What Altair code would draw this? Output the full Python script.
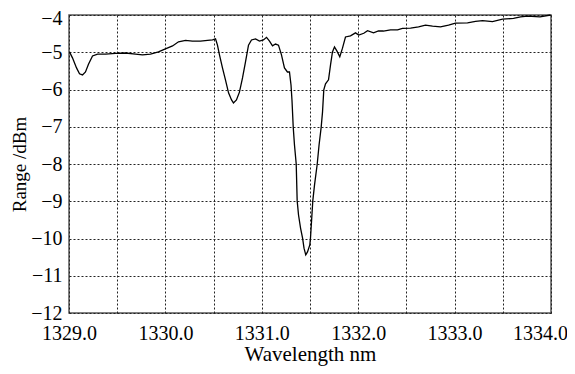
import altair as alt
import pandas as pd

wavelength = [
    1329.005, 1329.036, 1329.078, 1329.109, 1329.140, 1329.171, 1329.202, 1329.244,
    1329.296, 1329.379, 1329.482, 1329.586, 1329.690, 1329.762, 1329.845, 1329.928,
    1330.000, 1330.074, 1330.136, 1330.209, 1330.280, 1330.364, 1330.437, 1330.489,
    1330.520, 1330.540, 1330.561, 1330.592, 1330.623, 1330.655, 1330.686, 1330.706,
    1330.737, 1330.768, 1330.800, 1330.831, 1330.862, 1330.893, 1330.935, 1330.976,
    1331.017, 1331.049, 1331.080, 1331.111, 1331.142, 1331.173, 1331.204, 1331.235,
    1331.266, 1331.287, 1331.303, 1331.313, 1331.326, 1331.339, 1331.357, 1331.367,
    1331.381, 1331.402, 1331.423, 1331.438, 1331.456, 1331.474, 1331.498, 1331.505,
    1331.529, 1331.547, 1331.575, 1331.594, 1331.616, 1331.630, 1331.643, 1331.661,
    1331.692, 1331.713, 1331.733, 1331.754, 1331.780, 1331.809, 1331.837, 1331.868,
    1331.920, 1331.972, 1332.006, 1332.058, 1332.097, 1332.159, 1332.210, 1332.262,
    1332.335, 1332.408, 1332.459, 1332.543, 1332.626, 1332.698, 1332.771, 1332.854,
    1332.937, 1333.009, 1333.134, 1333.217, 1333.290, 1333.393, 1333.497, 1333.611,
    1333.684, 1333.756, 1333.886, 1333.995,
]
power_dbm = [
    -4.99, -5.15, -5.42, -5.58, -5.61, -5.53, -5.32, -5.10,
    -5.05, -5.05, -5.03, -5.02, -5.05, -5.07, -5.05, -4.99,
    -4.91, -4.83, -4.72, -4.68, -4.70, -4.70, -4.68, -4.67,
    -4.64, -4.81, -5.07, -5.42, -5.74, -6.09, -6.28, -6.36,
    -6.28, -6.07, -5.69, -5.26, -4.81, -4.67, -4.64, -4.70,
    -4.67, -4.60, -4.70, -4.83, -4.78, -4.81, -5.07, -5.42,
    -5.53, -5.53, -5.88, -6.28, -7.01, -7.49, -8.00, -8.99,
    -9.37, -9.72, -9.99, -10.26, -10.44, -10.36, -10.17, -9.99,
    -8.99, -8.56, -8.00, -7.49, -7.01, -6.60, -6.01, -5.85,
    -5.74, -5.34, -4.99, -4.86, -4.97, -5.12, -4.89, -4.59,
    -4.56, -4.48, -4.54, -4.49, -4.42, -4.48, -4.43, -4.43,
    -4.40, -4.40, -4.36, -4.35, -4.32, -4.27, -4.30, -4.32,
    -4.27, -4.22, -4.21, -4.17, -4.15, -4.18, -4.11, -4.09,
    -4.05, -4.03, -4.05, -4.00,
]

x_grid_values = [1329.0, 1329.5, 1330.0, 1330.5, 1331.0, 1331.5, 1332.0, 1332.5, 1333.0, 1333.5, 1334.0]
y_tick_values = [-12, -11, -10, -9, -8, -7, -6, -5, -4]

df = pd.DataFrame({"wl": wavelength, "p": power_dbm})

FONT = "Liberation Serif"

chart = (
    alt.Chart(df)
    .mark_line(color="black", strokeWidth=1.3)
    .encode(
        x=alt.X(
            "wl:Q",
            scale=alt.Scale(domain=[1329, 1334], nice=False, zero=False),
            axis=alt.Axis(
                values=x_grid_values,
                labelExpr="datum.value % 1 == 0 ? format(datum.value, '.1f') : ''",
                title="Wavelength nm",
                ticks=False,
                domain=False,
                grid=True,
                gridColor="#222222",
                gridDash=[2, 2],
                gridWidth=1,
                labelPadding=10,
                labelOffset={"condition": {"test": "datum.value == 1334", "value": -11}, "value": 0},
                titlePadding=0,
                titleFontSize=21,
                labelFlush=False,
            ),
        ),
        y=alt.Y(
            "p:Q",
            scale=alt.Scale(domain=[-12, -4], nice=False, zero=False),
            axis=alt.Axis(
                values=y_tick_values,
                title="Range /dBm",
                ticks=False,
                domain=False,
                grid=True,
                gridColor="#222222",
                gridDash=[2, 2],
                gridWidth=1,
                labelPadding=7,
                labelOffset={"condition": {"test": "datum.value == -4", "value": 3}, "value": 0},
                titlePadding=1,
                titleFontSize=19,
                labelFlush=False,
            ),
        ),
    )
    .properties(
        width=482,
        height=298,
        autosize=alt.AutoSizeParams(type="none"),
        padding={"left": 61, "top": 7, "right": 16, "bottom": 53},
    )
    .configure_view(stroke="#555555", strokeWidth=1.5)
    .configure_axis(
        labelFont=FONT,
        titleFont=FONT,
        labelFontSize=20,
        titleFontWeight="normal",
        labelColor="black",
        titleColor="black",
    )
)

chart.save("out.html", embed_options={"renderer": "svg", "actions": False})
